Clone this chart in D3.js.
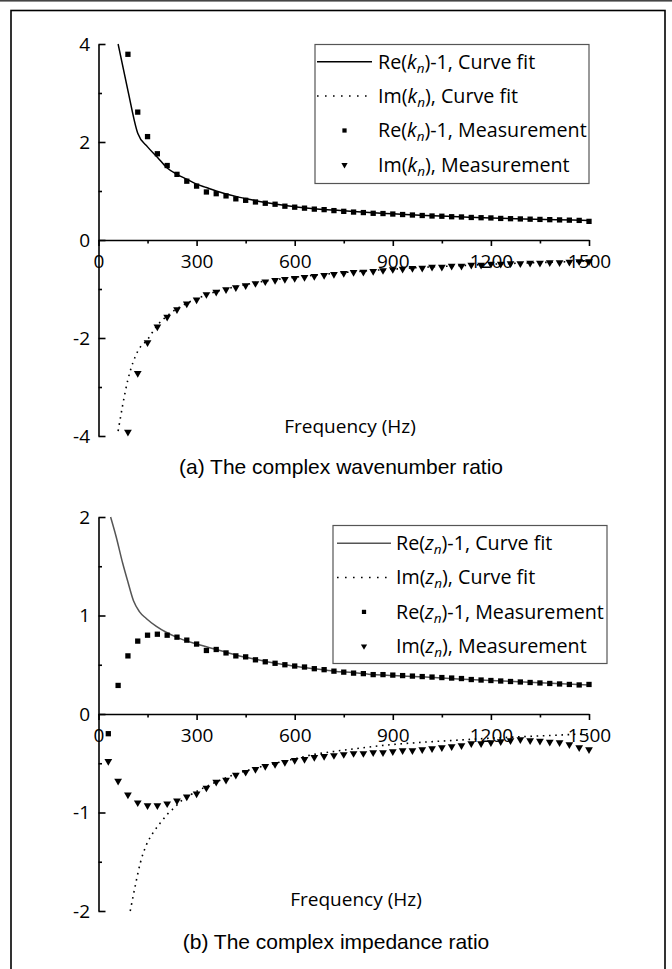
<!DOCTYPE html>
<html>
<head>
<meta charset="utf-8">
<script src="https://cdn.jsdelivr.net/npm/d3@7"></script>
<style>
  body { margin: 0; background: #fff; }
  svg { display: block; }
</style>
</head>
<body>
<div id="chart"></div>
<script>
// ---- axis ticks ----
const xTicks = [0, 300, 600, 900, 1200, 1500];
const xMinorTicks = [150, 450, 750, 1050, 1350];
const yTicksA = [-4, -2, 0, 2, 4];
const yMinorA = [-3, -1, 1, 3];
const yTicksB = [-2, -1, 0, 1, 2];
const yMinorB = [-1.5, -0.5, 0.5, 1.5];

// ---- (a) wavenumber ratio: measurements ----
const measFreqA = [90,120,150,180,210,240,270,300,330,360,390,420,450,480,510,540,570,600,630,660,690,720,750,780,810,840,870,900,930,960,990,1020,1050,1080,1110,1140,1170,1200,1230,1260,1290,1320,1350,1380,1410,1440,1470,1500];
const reKMeas = [3.79,2.61,2.11,1.76,1.52,1.34,1.20,1.10,0.98,0.945,0.90,0.84,0.81,0.776,0.75,0.73,0.69,0.67,0.65,0.63,0.62,0.60,0.585,0.57,0.56,0.545,0.54,0.53,0.52,0.51,0.50,0.49,0.485,0.475,0.47,0.46,0.455,0.45,0.44,0.435,0.43,0.425,0.42,0.415,0.41,0.405,0.40,0.38];
const imKMeas = [-3.92,-2.72,-2.09,-1.77,-1.57,-1.42,-1.30,-1.22,-1.11,-1.06,-1.01,-0.97,-0.93,-0.885,-0.85,-0.82,-0.80,-0.78,-0.76,-0.74,-0.72,-0.70,-0.68,-0.66,-0.655,-0.64,-0.62,-0.60,-0.59,-0.575,-0.57,-0.55,-0.55,-0.53,-0.53,-0.51,-0.51,-0.49,-0.49,-0.48,-0.48,-0.47,-0.47,-0.46,-0.46,-0.45,-0.44,-0.44];

// ---- (a) curve fits ----
const fitFreqA = [60,90,120,150,180,210,240,270,300,330,360,390,420,450,480,510,540,600,660,720,780,840,900,1000,1100,1200,1300,1400,1500];
const reKFit = [4.0,3.05,2.18,1.90,1.69,1.47,1.34,1.24,1.14,1.07,1.0,0.94,0.89,0.845,0.80,0.765,0.735,0.68,0.64,0.61,0.58,0.555,0.535,0.50,0.475,0.45,0.43,0.415,0.40];
const imKFit = [-3.9,-2.85,-2.27,-2.03,-1.74,-1.55,-1.40,-1.29,-1.20,-1.12,-1.05,-1.0,-0.95,-0.91,-0.87,-0.84,-0.81,-0.76,-0.72,-0.68,-0.65,-0.62,-0.595,-0.555,-0.525,-0.495,-0.47,-0.45,-0.43];

// ---- (b) impedance ratio: measurements ----
const measFreqB = [30,60,90,120,150,180,210,240,270,300,330,360,390,420,450,480,510,540,570,600,630,660,690,720,750,780,810,840,870,900,930,960,990,1020,1050,1080,1110,1140,1170,1200,1230,1260,1290,1320,1350,1380,1410,1440,1470,1500];
const reZMeas = [-0.20,0.29,0.59,0.74,0.80,0.81,0.80,0.78,0.75,0.71,0.645,0.655,0.62,0.59,0.58,0.55,0.53,0.515,0.50,0.487,0.477,0.46,0.45,0.435,0.425,0.415,0.41,0.40,0.40,0.395,0.39,0.385,0.38,0.375,0.37,0.365,0.36,0.35,0.345,0.34,0.335,0.33,0.325,0.32,0.315,0.31,0.305,0.30,0.295,0.30];
const imZMeas = [-0.48,-0.68,-0.82,-0.90,-0.93,-0.93,-0.91,-0.88,-0.84,-0.81,-0.75,-0.69,-0.67,-0.62,-0.59,-0.56,-0.53,-0.51,-0.49,-0.47,-0.46,-0.44,-0.43,-0.42,-0.41,-0.40,-0.40,-0.39,-0.39,-0.38,-0.37,-0.37,-0.36,-0.35,-0.34,-0.33,-0.32,-0.30,-0.30,-0.29,-0.28,-0.27,-0.26,-0.27,-0.275,-0.285,-0.29,-0.31,-0.34,-0.36];

// ---- (b) curve fits ----
const reZFitFreq = [37,54,74,90,107,125,146,177,207,238,300,360,420,480,540,600,660,720,780,840,900,1000,1100,1200,1300,1400,1500];
const reZFit = [2.0,1.80,1.53,1.34,1.15,1.04,0.97,0.89,0.83,0.78,0.71,0.655,0.60,0.555,0.515,0.485,0.46,0.435,0.42,0.40,0.39,0.375,0.355,0.34,0.325,0.31,0.295];
const imZFitFreq = [97,112,128,145,166,188,210,232,254,298,360,420,480,540,600,660,720,780,840,900,1000,1100,1200,1300,1400,1500];
const imZFit = [-2.0,-1.75,-1.51,-1.34,-1.21,-1.11,-1.02,-0.95,-0.88,-0.79,-0.69,-0.61,-0.55,-0.50,-0.455,-0.41,-0.38,-0.355,-0.33,-0.31,-0.285,-0.265,-0.245,-0.23,-0.215,-0.20];

const FONT = "'Open Sans', 'Noto Sans', sans-serif";
const W = 672, H = 969;

const svg = d3.select("#chart").append("svg")
    .attr("width", W)
    .attr("height", H);

// page frame
svg.append("rect").attr("x", 0).attr("y", 0).attr("width", W).attr("height", 1.6).attr("fill", "#444");
svg.append("rect")
    .attr("x", 11).attr("y", 10.5)
    .attr("width", 654).attr("height", 1000)
    .attr("fill", "none").attr("stroke", "#000").attr("stroke-width", 1.6);

function zip(xs, ys) { return xs.map((f, i) => [f, ys[i]]); }

function drawPanel(p) {
  const x = d3.scaleLinear().domain([0, 1500]).range([98.5, 589]);
  const y = d3.scaleLinear().domain(p.yDomain).range(p.yRange);
  const g = svg.append("g");

  // y axis: ticks point into the plot
  g.append("g").attr("class", "yMinor")
      .attr("transform", `translate(${x(0)},0)`)
      .call(d3.axisLeft(y).tickValues(p.yMinor).tickSizeInner(-3.5).tickSizeOuter(0).tickFormat(""))
      .call(s => s.select(".domain").remove());
  g.append("g").attr("class", "yAxis")
      .attr("transform", `translate(${x(0)},0)`)
      .call(d3.axisLeft(y).tickValues(p.yTicks).tickSizeInner(-7).tickSizeOuter(0)
            .tickPadding(8.5).tickFormat(d => String(d)));

  // x axis sits at y = 0
  g.append("g").attr("class", "xMinor")
      .attr("transform", `translate(0,${y(0)})`)
      .call(d3.axisBottom(x).tickValues(xMinorTicks).tickSizeInner(3.5).tickSizeOuter(0).tickFormat(""))
      .call(s => s.select(".domain").remove());
  g.append("g").attr("class", "xAxis")
      .attr("transform", `translate(0,${y(0)})`)
      .call(d3.axisBottom(x).tickValues(xTicks).tickSizeInner(6).tickSizeOuter(0)
            .tickPadding(8.7).tickFormat(d => String(d)));

  g.selectAll(".domain, .tick line").attr("stroke", "#000").attr("stroke-width", 1.6);
  g.selectAll(".tick text")
      .attr("font-family", FONT).attr("font-size", 19).attr("fill", "#000");

  g.append("text")
      .attr("x", p.xLabelX).attr("y", p.xLabelY)
      .attr("text-anchor", "middle")
      .attr("font-family", FONT).attr("font-size", 19)
      .text("Frequency (Hz)");

  const line = d3.line()
      .x(d => x(d[0]))
      .y(d => y(d[1]))
      .curve(d3.curveMonotoneX);

  g.append("path")
      .datum(zip(p.reFitFreq, p.reFit))
      .attr("d", line)
      .attr("fill", "none")
      .attr("stroke", p.reColor)
      .attr("stroke-width", 1.5);

  g.append("path")
      .datum(zip(p.imFitFreq, p.imFit))
      .attr("d", line)
      .attr("fill", "none")
      .attr("stroke", "#000")
      .attr("stroke-width", 1.6)
      .attr("stroke-dasharray", "1.6,4.6");

  g.selectAll(".sq")
      .data(zip(p.measFreq, p.reMeas))
    .enter().append("path")
      .attr("class", "sq")
      .attr("d", d3.symbol(d3.symbolSquare, 28)())
      .attr("transform", d => `translate(${x(d[0])},${y(d[1])})`)
      .attr("fill", "#000");

  g.selectAll(".tri")
      .data(zip(p.measFreq, p.imMeas))
    .enter().append("path")
      .attr("class", "tri")
      .attr("d", d3.symbol(d3.symbolTriangle, 26)())
      .attr("transform", d => `translate(${x(d[0])},${y(d[1])}) rotate(180)`)
      .attr("fill", "#000");

  drawLegend(p.legend, p.reColor, p.sym);

  svg.append("text")
      .attr("x", p.captionX).attr("y", p.captionY)
      .attr("text-anchor", "middle")
      .attr("font-family", "'Liberation Sans', Arial, sans-serif")
      .attr("font-size", 21)
      .text(p.caption);
}

function drawLegend(lg, reColor, sym) {
  const g = svg.append("g");
  g.append("rect")
      .attr("x", lg.x).attr("y", lg.y)
      .attr("width", lg.w).attr("height", lg.h)
      .attr("fill", "#fff")
      .attr("stroke", "#555").attr("stroke-width", 1.2);

  const rows = [
    { kind: "solid",  pre: "Re(", post: ")-1, Curve fit" },
    { kind: "dotted", pre: "Im(", post: "), Curve fit" },
    { kind: "square", pre: "Re(", post: ")-1, Measurement" },
    { kind: "tri",    pre: "Im(", post: "), Measurement" }
  ];
  const cx = (lg.lineX0 + lg.lineX1) / 2;

  rows.forEach((r, i) => {
    const ry = lg.firstRow + i * lg.rowStep;
    if (r.kind === "solid" || r.kind === "dotted") {
      g.append("line")
          .attr("x1", lg.lineX0).attr("x2", lg.lineX1)
          .attr("y1", ry).attr("y2", ry)
          .attr("stroke", r.kind === "solid" ? reColor : "#000")
          .attr("stroke-width", 1.5)
          .attr("stroke-dasharray", r.kind === "dotted" ? "1.6,6.4" : null);
    } else if (r.kind === "square") {
      g.append("path")
          .attr("d", d3.symbol(d3.symbolSquare, 18)())
          .attr("transform", `translate(${cx},${ry})`);
    } else {
      g.append("path")
          .attr("d", d3.symbol(d3.symbolTriangle, 17)())
          .attr("transform", `translate(${cx},${ry}) rotate(180)`);
    }
    const t = g.append("text")
        .attr("x", lg.textX).attr("y", ry + 6.8)
        .attr("font-family", FONT).attr("font-size", 19.7);
    t.append("tspan").text(r.pre);
    t.append("tspan").attr("font-style", "italic").text(sym);
    t.append("tspan").attr("font-style", "italic").attr("font-size", 13.5).attr("dy", 4).text("n");
    t.append("tspan").attr("dy", -4).text(r.post);
  });
}

drawPanel({
  yDomain: [-4, 4], yRange: [436, 44],
  yTicks: yTicksA, yMinor: yMinorA,
  measFreq: measFreqA, reMeas: reKMeas, imMeas: imKMeas,
  reFitFreq: fitFreqA, reFit: reKFit,
  imFitFreq: fitFreqA, imFit: imKFit,
  reColor: "#000", sym: "k",
  xLabelX: 350, xLabelY: 433,
  caption: "(a) The complex wavenumber ratio", captionX: 341, captionY: 474,
  legend: { x: 315, y: 44.5, w: 274, h: 139, firstRow: 61.7, rowStep: 34.4,
            lineX0: 317, lineX1: 372, textX: 378 }
});

drawPanel({
  yDomain: [-2, 2], yRange: [911, 517],
  yTicks: yTicksB, yMinor: yMinorB,
  measFreq: measFreqB, reMeas: reZMeas, imMeas: imZMeas,
  reFitFreq: reZFitFreq, reFit: reZFit,
  imFitFreq: imZFitFreq, imFit: imZFit,
  reColor: "#555", sym: "z",
  xLabelX: 356, xLabelY: 906,
  caption: "(b) The complex impedance ratio", captionX: 336, captionY: 949,
  legend: { x: 333, y: 525.5, w: 274, h: 138, firstRow: 543.3, rowStep: 34.3,
            lineX0: 337, lineX1: 391, textX: 396 }
});
</script>
</body>
</html>
